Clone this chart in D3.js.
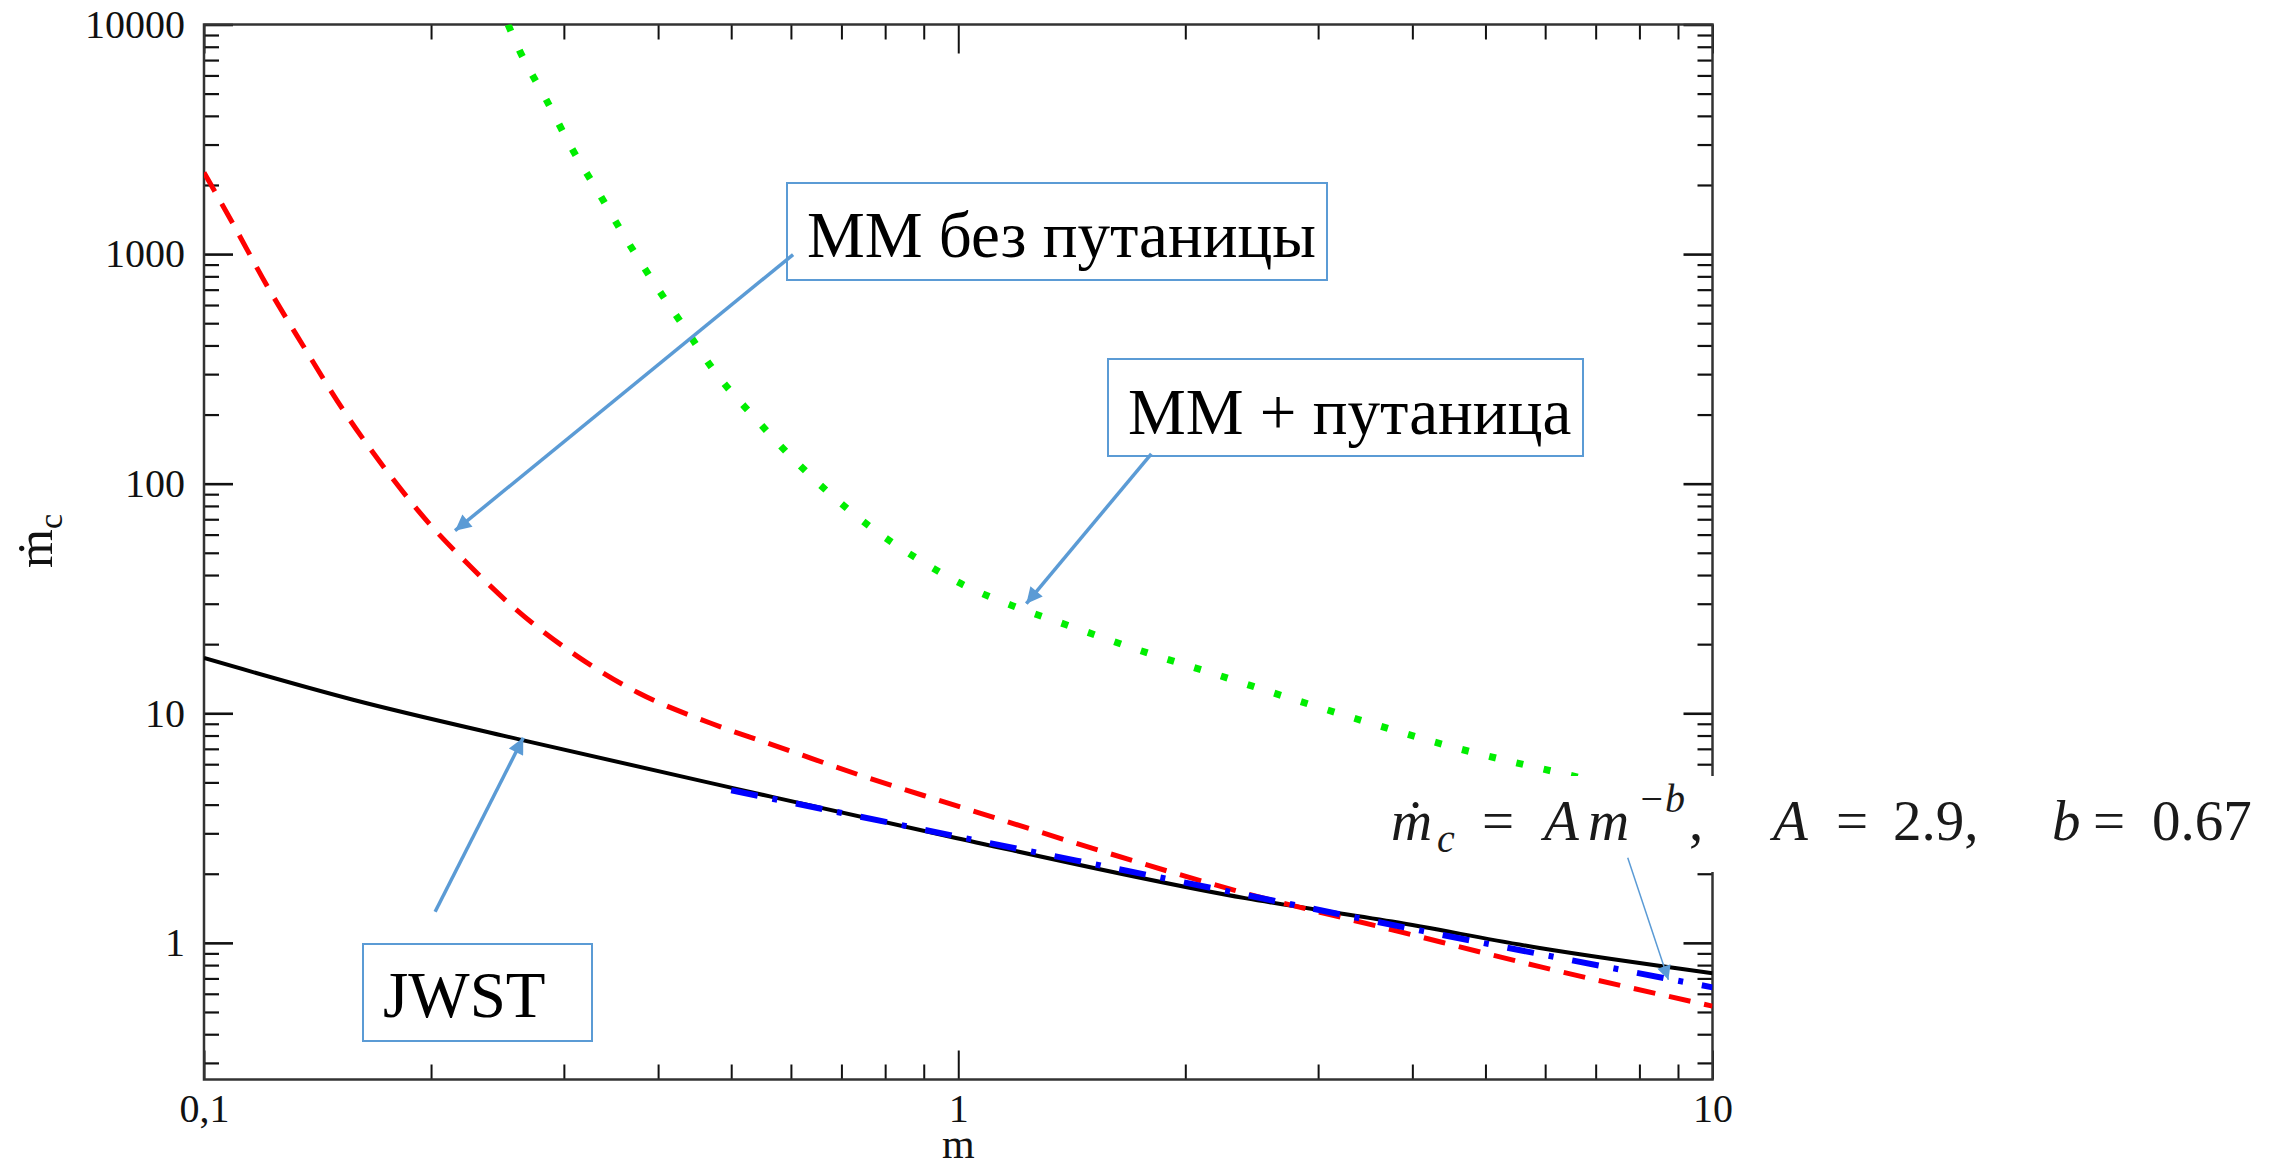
<!DOCTYPE html>
<html>
<head>
<meta charset="utf-8">
<script src="https://cdn.jsdelivr.net/npm/d3@7"></script>
<style>
  html, body { margin: 0; padding: 0; background: #fff; }
  svg { display: block; }
</style>
</head>
<body>
<svg id="chart"></svg>
<script>
// values: m on x, critical rate on y
var jwstM = [0.1, 0.1576, 0.2634, 0.503, 0.976, 2.4, 3.76, 5.9, 10];
var jwstV = [17.4, 11.45, 7.66, 4.72, 2.9, 1.566, 1.238, 0.95, 0.738];

var mmM = [0.1, 0.1094, 0.1211, 0.1354, 0.153, 0.1747, 0.2014, 0.222, 0.2596, 0.3127, 0.377, 0.469, 0.593, 0.749, 0.96, 1.123, 1.53, 2.4, 3.76, 5.9, 10];
var mmV = [2265, 1344, 732, 398, 209, 113.6, 64, 45.9, 28.2, 17.7, 12.25, 9.07, 6.93, 5.31, 4.1, 3.49, 2.54, 1.646, 1.14, 0.788, 0.53];

var mmEntM = [0.253, 0.262, 0.284, 0.307, 0.334, 0.363, 0.397, 0.437, 0.479, 0.534, 0.599, 0.672, 0.767, 0.881, 1.02, 1.19, 1.39, 1.74, 2.22, 2.83, 3.56, 4.53, 6.27, 10];
var mmEntV = [10000, 7710, 4735, 2910, 1837, 1159, 731, 461, 298, 198, 132, 92, 64.3, 47.3, 36, 29.1, 24.3, 18.8, 14.6, 11.3, 8.96, 7.12, 5.5, 3.9];

var fitM = [0.5, 1, 2, 4, 10];
var fitV = [4.62, 2.9, 1.83, 1.15, 0.64];

var yMajor = [1, 10, 100, 1000, 10000];
var yLabels = ["1", "10", "100", "1000", "10000"];
var xMajor = [0.1, 1, 10];
var xLabels = ["0,1", "1", "10"];

// callout arrows, tail -> head, in data units
var arrowFrom = [[0.604, 995], [1.803, 135], [0.2025, 1.365]];
var arrowTo = [[0.2152, 62.4], [1.231, 30], [0.265, 7.82]];
var fitArrowFrom = [7.72, 2.35], fitArrowTo = [8.74, 0.69];

var serif = "'Liberation Serif', 'Times New Roman', serif";

var W = 2271, H = 1166;
var margin = {top: 24.5, right: 558.5, bottom: 86.5, left: 204};
var width = W - margin.left - margin.right,
    height = H - margin.top - margin.bottom;
var callBlue = "#5b9bd5";

var svg = d3.select("#chart").attr("width", W).attr("height", H)
    .attr("font-family", serif);
var g = svg.append("g")
    .attr("transform", "translate(" + margin.left + "," + margin.top + ")");

var x = d3.scaleLog().domain([0.1, 10]).range([0, width]);
var y = d3.scaleLog().domain([0.254, 10000]).range([height, 0]);

var isDecade = function(v) { return Math.abs(Math.log10(v) - Math.round(Math.log10(v))) < 1e-6; };
var xMinor = x.ticks().filter(function(d) { return !isDecade(d); });
var yMinor = y.ticks().filter(function(d) { return !isDecade(d); });

function tidy(sel, w) {
  sel.attr("font-family", serif).attr("color", "#111");
  sel.select(".domain").remove();
  sel.selectAll(".tick line").attr("stroke-width", w);
  sel.selectAll(".tick text").attr("font-size", 40).attr("fill", "#111");
}

// left
g.append("g").call(d3.axisLeft(y).tickValues(yMajor).tickSize(-29).tickPadding(19)
    .tickFormat(function(d, i) { return yLabels[i]; })).call(tidy, 2.6);
g.append("g").call(d3.axisLeft(y).tickValues(yMinor).tickSize(-15).tickFormat("")).call(tidy, 2.2);
// right
g.append("g").attr("transform", "translate(" + width + ",0)")
    .call(d3.axisRight(y).tickValues(yMajor).tickSize(-29).tickFormat("")).call(tidy, 2.6);
g.append("g").attr("transform", "translate(" + width + ",0)")
    .call(d3.axisRight(y).tickValues(yMinor).tickSize(-15).tickFormat("")).call(tidy, 2.2);
// bottom
g.append("g").attr("transform", "translate(0," + height + ")")
    .call(d3.axisBottom(x).tickValues(xMajor).tickSize(-29).tickPadding(14)
    .tickFormat(function(d, i) { return xLabels[i]; })).call(tidy, 2);
g.append("g").attr("transform", "translate(0," + height + ")")
    .call(d3.axisBottom(x).tickValues(xMinor).tickSize(-15).tickFormat("")).call(tidy, 2);
// top
g.append("g").call(d3.axisTop(x).tickValues(xMajor).tickSize(-29).tickFormat("")).call(tidy, 2);
g.append("g").call(d3.axisTop(x).tickValues(xMinor).tickSize(-15).tickFormat("")).call(tidy, 2);

g.append("rect")
    .attr("width", width).attr("height", height)
    .attr("fill", "none").attr("stroke", "#333").attr("stroke-width", 2.5);

// axis titles
svg.append("text")
    .attr("x", margin.left + x(1)).attr("y", 1158)
    .attr("text-anchor", "middle").attr("font-size", 42)
    .attr("fill", "#111").text("m");

var yt = svg.append("text")
    .attr("transform", "translate(52,541) rotate(-90)")
    .attr("text-anchor", "middle").attr("font-size", 50)
    .attr("fill", "#111");
yt.append("tspan").text("ṁ");
yt.append("tspan").attr("font-size", 34).attr("dy", 10).text("c");

// curves
g.append("clipPath").attr("id", "plotclip")
  .append("rect").attr("width", width).attr("height", height);

var line = d3.line()
    .x(function(d) { return x(d[0]); })
    .y(function(d) { return y(d[1]); })
    .curve(d3.curveMonotoneX);

var curves = g.append("g").attr("clip-path", "url(#plotclip)");

function zip(a, b) { return a.map(function(v, i) { return [v, b[i]]; }); }

curves.append("path").datum(zip(mmEntM, mmEntV))
    .attr("d", line).attr("fill", "none")
    .attr("stroke", "#00ee00").attr("stroke-width", 7)
    .attr("stroke-dasharray", "7 21");

curves.append("path").datum(zip(jwstM, jwstV))
    .attr("d", line).attr("fill", "none")
    .attr("stroke", "#000").attr("stroke-width", 4);

curves.append("path").datum(zip(mmM, mmV))
    .attr("d", line).attr("fill", "none")
    .attr("stroke", "#ff0000").attr("stroke-width", 5)
    .attr("stroke-dasharray", "22 14");

curves.append("path").datum(zip(fitM, fitV))
    .attr("d", line).attr("fill", "none")
    .attr("stroke", "#0000ff").attr("stroke-width", 6)
    .attr("stroke-dasharray", "27 15 5 19");

// callout boxes
var boxes = [
  {x: 787, y: 183, w: 540, h: 97, tx: 807, ty: 257, label: "ММ без путаницы"},
  {x: 1108, y: 359, w: 475, h: 97, tx: 1128, ty: 434, label: "ММ + путаница"},
  {x: 363, y: 944, w: 229, h: 97, tx: 383, ty: 1017, label: "JWST"}
];
boxes.forEach(function(b) {
  svg.append("rect").attr("x", b.x).attr("y", b.y).attr("width", b.w).attr("height", b.h)
      .attr("fill", "#fff").attr("stroke", callBlue).attr("stroke-width", 2);
  svg.append("text").attr("x", b.tx).attr("y", b.ty)
      .attr("font-size", 65).attr("fill", "#000").text(b.label);
});

// formula on white background
svg.append("rect").attr("x", 1380).attr("y", 776).attr("width", W - 1380).attr("height", 96)
    .attr("fill", "#fff");
var fParts = [
  {t: "ṁ", x: 1391, it: true},
  {t: "c", x: 1437, it: true, sub: true},
  {t: "=", x: 1482},
  {t: "A", x: 1544, it: true},
  {t: "m", x: 1588, it: true},
  {t: "−b", x: 1638, it: true, sup: true},
  {t: ",", x: 1689},
  {t: "A", x: 1773, it: true},
  {t: "=", x: 1836},
  {t: "2.9,", x: 1893},
  {t: "b", x: 2052, it: true},
  {t: "=", x: 2093},
  {t: "0.67", x: 2152}
];
fParts.forEach(function(p) {
  svg.append("text")
      .attr("x", p.x).attr("y", p.sub ? 852 : (p.sup ? 812 : 840))
      .attr("font-style", p.it ? "italic" : "normal")
      .attr("font-size", (p.sub || p.sup) ? 40 : 57)
      .attr("fill", "#1a1a1a")
      .text(p.t);
});

// arrows
var defs = svg.append("defs");
function marker(id, w, h) {
  defs.append("marker").attr("id", id)
      .attr("viewBox", "0 0 10 10").attr("refX", 10).attr("refY", 5)
      .attr("markerWidth", w).attr("markerHeight", h)
      .attr("markerUnits", "userSpaceOnUse").attr("orient", "auto")
    .append("path").attr("d", "M0,0L10,5L0,10Z").attr("fill", callBlue);
}
marker("arr", 22, 16);
marker("arrThin", 17, 14);

function px(p) { return [margin.left + x(p[0]), margin.top + y(p[1])]; }

arrowFrom.forEach(function(f, i) {
  var a = px(f), b = px(arrowTo[i]);
  svg.append("line").attr("x1", a[0]).attr("y1", a[1]).attr("x2", b[0]).attr("y2", b[1])
      .attr("stroke", callBlue).attr("stroke-width", 3.5).attr("marker-end", "url(#arr)");
});
var fa = px(fitArrowFrom), fb = px(fitArrowTo);
svg.append("line").attr("x1", fa[0]).attr("y1", fa[1]).attr("x2", fb[0]).attr("y2", fb[1])
    .attr("stroke", callBlue).attr("stroke-width", 1.5).attr("marker-end", "url(#arrThin)");
</script>
</body>
</html>
